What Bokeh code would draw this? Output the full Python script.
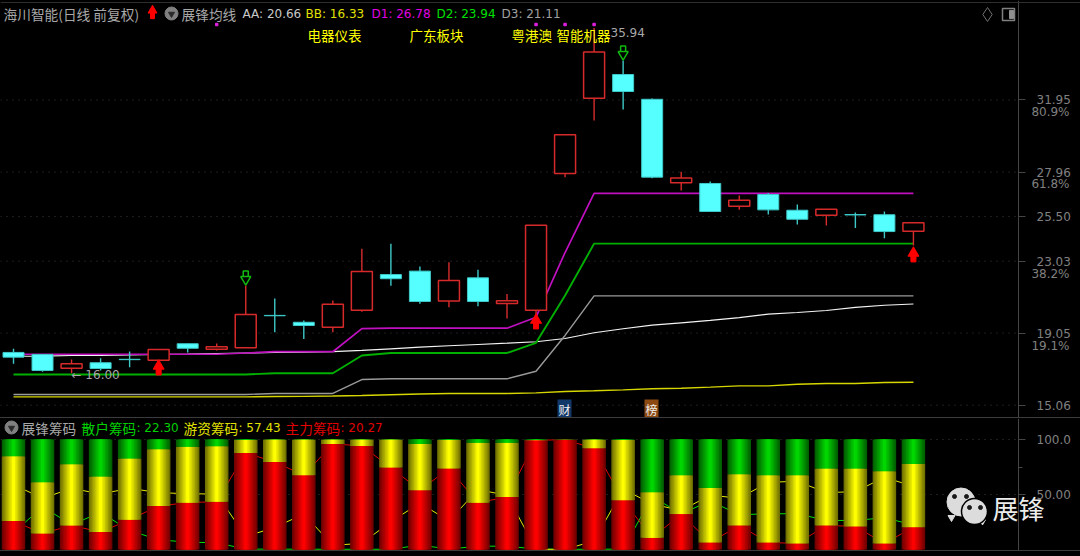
from bokeh.plotting import figure
from bokeh.layouts import column
from bokeh.models import (ColumnDataSource, Div, FixedTicker, Label, LinearAxis, Range1d, Span,
                          GlobalInlineStyleSheet)
from bokeh.embed import file_html
from bokeh.resources import INLINE

# ---------- candles ----------
opens  = [17.98,17.87,17.11,17.41,17.60,17.55,18.46,18.16,18.24,20.03,19.65,19.38,20.32,22.29,22.48,20.82,22.11,20.69,20.32,27.88,32.05,33.36,31.99,27.37,27.33,26.07,26.72,25.85,25.57,25.61,25.60,24.69]
closes = [17.72,16.98,17.35,17.09,17.58,18.14,18.21,18.29,20.08,20.01,19.47,20.65,22.46,22.06,20.80,21.96,20.80,20.84,25.02,30.02,34.60,32.42,27.68,27.64,25.78,26.40,25.87,25.35,25.91,25.59,24.67,25.15]
highs  = [18.18,17.87,17.59,17.66,18.03,18.14,18.46,18.47,21.68,20.96,19.75,20.85,23.72,23.99,22.74,22.97,22.55,21.22,25.02,30.02,35.94,34.14,32.03,27.98,27.44,26.66,26.81,26.17,25.91,25.72,25.78,25.15]
lows   = [17.35,16.91,16.83,16.98,17.16,17.55,17.98,18.09,18.24,19.10,18.73,19.10,20.23,21.67,20.67,20.48,20.54,19.86,20.02,27.68,30.82,31.42,27.62,26.94,25.78,25.87,25.61,25.06,25.00,24.86,24.30,23.90]

# ---------- moving lines ----------
aa = [17.77,17.78,17.81,17.81,17.84,17.87,17.89,17.92,17.95,17.98,18.00,18.03,18.09,18.18,18.27,18.35,18.42,18.49,18.57,18.75,19.07,19.29,19.49,19.62,19.75,19.91,20.10,20.19,20.30,20.47,20.59,20.66]
bb = [15.52,15.52,15.52,15.52,15.52,15.52,15.52,15.52,15.52,15.54,15.55,15.57,15.60,15.64,15.68,15.71,15.71,15.71,15.74,15.82,15.86,15.91,15.97,16.00,16.06,16.13,16.13,16.22,16.26,16.26,16.32,16.33]
d1 = [17.88,17.88,17.88,17.88,17.88,17.88,17.88,17.88,17.95,18.02,18.02,18.02,19.30,19.32,19.32,19.32,19.32,19.32,19.93,23.51,26.78,26.78,26.78,26.78,26.78,26.78,26.78,26.78,26.78,26.78,26.78,26.78]
d2 = [16.76,16.76,16.76,16.76,16.76,16.76,16.76,16.76,16.76,16.83,16.83,16.83,17.81,17.95,17.95,17.95,17.95,17.95,18.51,21.13,24.00,24.00,24.00,24.00,24.00,24.00,24.00,24.00,24.00,24.00,24.00,24.00]
d3 = [15.65,15.65,15.65,15.65,15.65,15.65,15.65,15.65,15.65,15.71,15.71,15.71,16.48,16.52,16.52,16.52,16.52,16.52,16.94,18.92,21.11,21.11,21.11,21.11,21.11,21.11,21.11,21.11,21.11,21.11,21.11,21.11]

# ---------- signals ----------
up_idx = [5, 18, 31]
up_head = [17.23, 19.77, 23.48]
up_stem = [16.92, 19.47, 23.18]
down_idx = [8, 21]
down_head = [22.02, 34.47]
down_stem = [22.32, 34.77]
dot_idx = [7, 18, 19, 20]
price_ticks = [15.06, 19.05, 23.03, 25.50, 27.96, 31.95]
fib_labels = ["80.9%", "61.8%", "38.2%", "19.1%"]
fib_prices = [31.27, 27.31, 22.33, 18.36]

# ---------- chips panel (share of each group, in percent) ----------
chip_main = [25.8,14.6,21.9,15.8,27.1,39.5,42.6,43.5,87.8,79.6,67.5,96.0,94.2,74.5,53.8,73.6,42.6,47.7,99.4,99.7,92.0,44.7,10.6,32.2,6.4,21.9,6.4,5.5,21.9,21.0,5.5,20.27]
chip_top  = [84.8,61.1,77.5,66.3,82.7,91.2,93.3,93.9,99.6,99.7,99.7,99.8,99.8,99.8,96.0,99.6,97.0,97.0,99.6,99.8,99.8,99.6,52.0,67.5,55.9,68.4,67.5,67.5,73.6,73.6,71.1,77.7]
chip_ticks = [50, 100]
chip_minor = [75]
chip_tick_text = {50: "50.00", 100: "100.0"}

N = len(opens)
idx = list(range(N))

GREY = "#a8a8a8"
LATIN = "DejaVu Sans"
CJK = "Noto Sans CJK SC"

SLOPE_X = 29.03
def px(x): return (x - 13) / SLOPE_X
def py(y): return 15.06 + (404.7 - y) / 18.07
def cy(y): return (550 - y) / 1.1

def base_fig(height, y0, y1, ticks, minor=()):
    f = figure(width=1080, height=height, output_backend="svg", toolbar_location=None,
               x_range=Range1d(px(0), px(1080)), y_range=Range1d(y0, y1),
               x_axis_location=None, y_axis_location=None,
               background_fill_color="#000000", border_fill_color="#000000",
               min_border_left=0, min_border_right=0, min_border_top=0, min_border_bottom=0,
               outline_line_color=None)
    ax = LinearAxis(fixed_location=px(1018), ticker=FixedTicker(ticks=ticks, minor_ticks=list(minor)))
    ax.axis_line_color = "#454545"
    ax.major_tick_line_color = "#454545"
    ax.major_tick_out = 7
    ax.major_tick_in = 0
    ax.minor_tick_line_color = "#454545"
    ax.minor_tick_out = 4
    ax.minor_tick_in = 0
    ax.major_label_standoff = 11
    ax.major_label_text_color = "#808080"
    ax.major_label_text_font = LATIN
    ax.major_label_text_font_size = "12px"
    f.add_layout(ax, "right")
    f.grid.visible = False
    # dotted price rules stop at the axis
    f.segment([px(0)] * len(ticks), ticks, [px(1018)] * len(ticks), ticks,
              line_color="#3a3a3a", line_dash="1 5", line_width=1)
    return f, ax

def label(f, x, y, text, color=GREY, size=12, font=LATIN, align="left", **kw):
    f.add_layout(Label(x=x, y=y, text=text, text_color=color, text_font=font,
                       text_font_size=f"{size}px", text_align=align,
                       text_baseline="middle", **kw))

def rule(h, color="#3c3c3c"):
    return Div(width=1080, height=h, styles={"background-color": color}, margin=(0, 0, 0, 0))

# ================= price panel =================
p, p_axis = base_fig(417, py(417), py(0), price_ticks)
p_axis.major_label_overrides = {t: f"{t:.2f}" for t in price_ticks}

up = [i for i in idx if closes[i] >= opens[i]]
dn = [i for i in idx if closes[i] < opens[i]]
W = 21 / SLOPE_X

p.add_layout(Span(location=py(2), dimension="width", line_color="#2e2e2e", line_width=1))

for line, col, lw in ((aa, "#f4f4f4", 1.2), (bb, "#d6d600", 1.4), (d3, "#9a9a9a", 1.4),
                      (d2, "#00b000", 1.9), (d1, "#c010c0", 1.7)):
    p.line(idx, line, line_color=col, line_width=lw)

p.segment([idx[i] for i in up], [highs[i] for i in up], [idx[i] for i in up], [lows[i] for i in up],
          line_color="#d82c2c", line_width=1.4)
p.vbar([idx[i] for i in up], W, [opens[i] for i in up], [closes[i] for i in up],
       fill_color="#000000", fill_alpha=1, line_color="#d62a2a", line_width=1.5)
p.segment([idx[i] for i in dn], [highs[i] for i in dn], [idx[i] for i in dn], [lows[i] for i in dn],
          line_color="#3fc8c8", line_width=1.4)
p.vbar([idx[i] for i in dn], W, [closes[i] for i in dn], [opens[i] for i in dn],
       fill_color="#55ffff", line_color="#3fc8c8", line_width=1)

# red up arrows
p.scatter(up_idx, up_head, marker="triangle", size=11, color="#ff0000")
p.rect(up_idx, up_stem, width=5 / SLOPE_X, height=0.38, color="#ff0000")
# green hollow down arrows
p.rect(down_idx, down_stem, width=5 / SLOPE_X, height=0.33, fill_color="#000000",
       line_color="#10b810", line_width=1.5)
p.scatter(down_idx, down_head, marker="inverted_triangle", size=10, fill_color="#000000",
          line_color="#10b810", line_width=1.5)
# magenta dots on top
p.scatter(dot_idx, [py(24)] * len(dot_idx), marker="square", size=2.5, color="#e020e0")

# header row
label(p, px(3), py(13), "海川智能(日线 前复权)", GREY, 13.7, CJK)
p.scatter([px(152)], [py(10)], marker="triangle", size=9, color="#ff0000")
p.rect([px(152)], [py(15)], width=4 / SLOPE_X, height=0.35, color="#ff0000")
p.scatter([px(171)], [py(13)], marker="circle", size=13, color="#808080")
p.scatter([px(171)], [py(13.5)], marker="inverted_triangle", size=6, color="#2a2a2a")
label(p, px(181), py(13), "展锋均线", GREY, 13.7, CJK)
label(p, px(242), py(13), f"AA: {aa[-1]:.2f}", "#c8c8c8")
label(p, px(305), py(13), f"BB: {bb[-1]:.2f}", "#e0e000")
label(p, px(371), py(13), f"D1: {d1[-1]:.2f}", "#e000e0")
label(p, px(436), py(13), "D2: 23.94", "#00e000")
label(p, px(501), py(13), f"D3: {d3[-1]:.2f}", "#a0a0a0")

# window icons
p.scatter([px(987)], [py(14)], marker="diamond", size=14, fill_color=None,
          line_color="#707070", line_width=1)
p.scatter([px(1008)], [py(14)], marker="square", size=12, fill_color=None,
          line_color="#808080", line_width=1.5)
p.rect([px(1011)], [py(14)], width=4 / SLOPE_X, height=0.45, color="#909090")

# concept tags
for x, t in ((307, "电器仪表"), (409, "广东板块"), (511, "粤港澳"), (556, "智能机器")):
    label(p, px(x), py(34), t, "#ffff00", 13.5, CJK)

label(p, px(610), py(32), f"{highs[20]:.2f}", GREY)
label(p, px(71), py(374.5), "← 16.00", GREY)

# fibonacci labels
for t, v in zip(fib_labels, fib_prices):
    label(p, px(1069), v, t, "#808080", 12, LATIN, "right")

# badges
label(p, px(564), py(408.5), "财", "#f0f0f0", 12, CJK, "center",
      background_fill_color="#12386a", padding=1)
label(p, px(651), py(408.5), "榜", "#f0f0f0", 12, CJK, "center",
      background_fill_color="#8c4a12", padding=1)

# ================= chips panel =================
q, q_axis = base_fig(132, cy(551), cy(419), chip_ticks, chip_minor)
q_axis.major_label_overrides = chip_tick_text

retail = [round(100 - t, 2) for t in chip_top]
hot = [round(t - m, 2) for t, m in zip(chip_top, chip_main)]
retail[-1], hot[-1] = 22.30, 57.43
q.line(idx, retail, line_color="#00e000", line_width=1)
q.line(idx, hot, line_color="#e8e800", line_width=1)
q.line(idx, chip_main, line_color="#e00000", line_width=1)

BW = 23.5 / SLOPE_X
STEPS = 8
src = ColumnDataSource(dict(x=idx, main=chip_main, top=chip_top, zero=[0] * N, full=[100] * N))
for s in range(STEPS):
    f = s / (STEPS - 1)
    k = 0.45 + 0.55 * f
    w = BW * (1 - s / STEPS)
    q.vbar("x", w, "zero", "main", source=src, line_color=None,
           fill_color=(int(255 * k), 0, 0))
    q.vbar("x", w, "main", "top", source=src, line_color=None,
           fill_color=(int(255 * k), int(255 * k), 0))
    q.vbar("x", w, "top", "full", source=src, line_color=None,
           fill_color=(0, int(215 * k), 0))

q.scatter([px(11)], [cy(428)], marker="circle", size=13, color="#808080")
q.scatter([px(11)], [cy(428.5)], marker="inverted_triangle", size=6, color="#2a2a2a")
label(q, px(21), cy(428), "展锋筹码", GREY, 13.7, CJK)
label(q, px(81), cy(428), "散户筹码", "#00d000", 13.7, CJK)
label(q, px(136), cy(428), ": 22.30", "#00d000")
label(q, px(183), cy(428), "游资筹码", "#e0e000", 13.7, CJK)
label(q, px(238), cy(428), ": 57.43", "#e0e000")
label(q, px(285), cy(428), "主力筹码", "#e00000", 13.7, CJK)
label(q, px(340), cy(428), ": 20.27", "#e00000")

# watermark
q.scatter([px(951)], [cy(518)], marker="inverted_triangle", size=7, color="#dcdcdc")
q.scatter([px(960.5)], [cy(502.5)], marker="circle", size=28, color="#dcdcdc")
q.scatter([px(982)], [cy(522)], marker="inverted_triangle", size=6, color="#dcdcdc")
q.scatter([px(974)], [cy(512)], marker="circle", size=26, color="#dcdcdc",
          line_color="#000000", line_width=1.5)
q.scatter([px(954), px(966), px(969), px(980)], [cy(497), cy(497), cy(508), cy(508)],
          marker="circle", size=4, color="#1a1a1a")
label(q, px(992), cy(508), "展锋", "#ececec", 26, CJK)

page = column(p, rule(1), q, rule(1), spacing=0)
page.stylesheets = [GlobalInlineStyleSheet(css="html,body{background:#000000;}")]

open("out.html", "w").write(file_html(page, INLINE))
